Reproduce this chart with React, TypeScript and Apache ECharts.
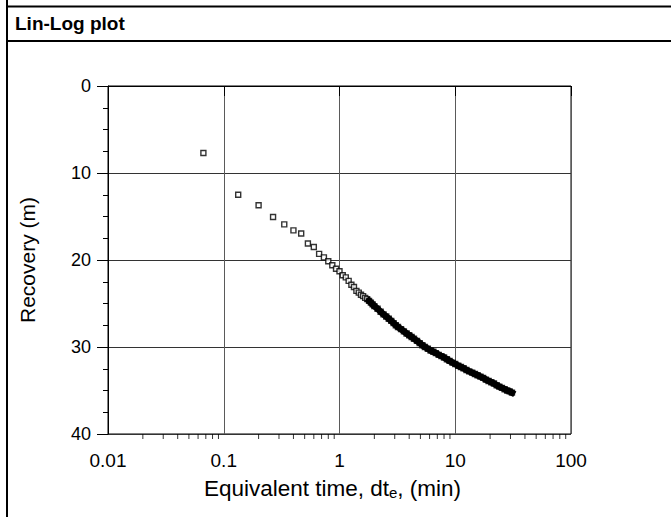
import React, { useEffect, useRef } from "react";
import * as echarts from "echarts";

// Sparse early points (equivalent time, min) and recovery (m)
const sparseX = [0.0667, 0.1333, 0.2, 0.2667, 0.3333, 0.4, 0.4667, 0.5333, 0.6, 0.6667, 0.7333, 0.8, 0.8667, 0.9333, 1.0, 1.0667, 1.1333, 1.2, 1.2667, 1.3333, 1.4, 1.4667, 1.5333, 1.6, 1.6667, 1.7333];
const sparseY = [7.7, 12.5, 13.7, 15.05, 15.9, 16.6, 16.95, 18.1, 18.5, 19.3, 19.7, 20.15, 20.6, 21.0, 21.3, 21.75, 22.0, 22.4, 22.85, 23.1, 23.55, 23.75, 24.0, 24.15, 24.35, 24.5];

// Dense late points
const denseX = [1.8, 1.867, 1.933, 2.0, 2.133, 2.267, 2.4, 2.533, 2.667, 2.8, 2.933, 3.067, 3.2, 3.4, 3.6, 3.8, 4.0, 4.2, 4.4, 4.67, 4.93, 5.2, 5.47, 5.8, 6.13, 6.47, 6.8, 7.2, 7.6, 8.0, 8.47, 8.93, 9.47, 10.0, 10.6, 11.2, 11.8, 12.5, 13.2, 14.0, 14.8, 15.6, 16.5, 17.4, 18.4, 19.4, 20.5, 21.6, 22.8, 24.0, 25.3, 26.7, 28.1, 29.5, 30.9];
const denseY = [24.7, 24.9, 25.1, 25.3, 25.6, 25.95, 26.25, 26.5, 26.75, 27.0, 27.25, 27.5, 27.7, 27.95, 28.2, 28.45, 28.65, 28.85, 29.05, 29.3, 29.55, 29.8, 30.0, 30.2, 30.4, 30.55, 30.7, 30.9, 31.05, 31.2, 31.4, 31.6, 31.8, 31.95, 32.15, 32.3, 32.45, 32.65, 32.8, 32.95, 33.1, 33.25, 33.4, 33.55, 33.75, 33.9, 34.05, 34.2, 34.4, 34.55, 34.7, 34.85, 35.0, 35.1, 35.25];

const xTickLabels = ["0.01", "0.1", "1", "10", "100"];
const yTickLabels = ["0", "10", "20", "30", "40"];
const xMinorTicks = [
  0.02, 0.03, 0.04, 0.05, 0.06, 0.07, 0.08, 0.09,
  0.2, 0.3, 0.4, 0.5, 0.6, 0.7, 0.8, 0.9,
  2, 3, 4, 5, 6, 7, 8, 9,
  20, 30, 40, 50, 60, 70, 80, 90,
];

const FONT = "'Liberation Sans', Arial, Helvetica, sans-serif";

export default function App() {
  const ref = useRef<HTMLDivElement>(null);
  useEffect(() => {
    if (!ref.current) return;
    const chart = echarts.init(ref.current, undefined, { renderer: "svg" });
    const allPts = sparseX.map((x, i) => [x, sparseY[i]]).concat(denseX.map((x, i) => [x, denseY[i]]));
    const densePts = denseX.map((x, i) => [x, denseY[i]]);
    chart.setOption({
      animation: false,
      backgroundColor: "#fff",
      textStyle: { fontFamily: FONT },
      grid: {
        left: 108,
        top: 86,
        width: 463,
        height: 348,
        show: true,
        borderColor: "#000",
        borderWidth: 1,
        backgroundColor: "transparent",
      },
      xAxis: {
        type: "log",
        logBase: 10,
        min: 0.01,
        max: 100,
        axisLine: { show: true, lineStyle: { color: "#000", width: 1 } },
        axisTick: { show: true, length: 10, lineStyle: { color: "#000" } },
        minorTick: { show: false },
        splitLine: { show: true, lineStyle: { color: "#5a5a5a", width: 1 } },
        axisLabel: {
          fontSize: 19,
          color: "#000",
          margin: 17,
          fontFamily: FONT,
          formatter: (v: number) => xTickLabels[Math.round(Math.log10(v)) + 2],
        },
        name: "{a|Equivalent time, dt}{s|e}{a|, (min)}",
        nameLocation: "middle",
        nameGap: 40,
        nameTextStyle: {
          padding: [0, 14, 0, 0],
          rich: {
            a: { fontSize: 22.5, fontFamily: FONT, color: "#000", lineHeight: 26, verticalAlign: "bottom" },
            s: { fontSize: 15, fontFamily: FONT, color: "#000", lineHeight: 15, verticalAlign: "bottom", padding: [4, 0, 0, 0] },
          },
        },
      },
      yAxis: {
        type: "value",
        inverse: true,
        min: 0,
        max: 40,
        interval: 10,
        axisLine: { show: true, lineStyle: { color: "#000", width: 1 } },
        axisTick: { show: true, length: 11, lineStyle: { color: "#000" } },
        minorTick: { show: true, splitNumber: 4, length: 5, lineStyle: { color: "#000" } },
        splitLine: { show: true, lineStyle: { color: "#333", width: 1 } },
        axisLabel: {
          fontSize: 18,
          color: "#000",
          margin: 17,
          fontFamily: FONT,
          formatter: (v: number) => yTickLabels[Math.round(v / 10)],
        },
        name: "Recovery (m)",
        nameLocation: "middle",
        nameGap: 70,
        nameTextStyle: { fontSize: 21, color: "#000", fontFamily: FONT },
      },
      graphic: [
        { type: "line", shape: { x1: 7, y1: 0, x2: 7, y2: 517 }, style: { stroke: "#000", lineWidth: 2 } },
        { type: "line", shape: { x1: 7, y1: 6.5, x2: 671, y2: 6.5 }, style: { stroke: "#000", lineWidth: 2 } },
        { type: "line", shape: { x1: 7, y1: 41, x2: 671, y2: 41 }, style: { stroke: "#000", lineWidth: 2 } },
        {
          type: "text",
          left: 15,
          top: 14,
          style: { text: "Lin-Log plot", fontSize: 19, fontWeight: "bold", fontFamily: FONT, fill: "#000" },
        },
      ],
      series: [
        {
          type: "scatter",
          data: xMinorTicks.map((v) => [v, 40]),
          symbol: "rect",
          symbolSize: [1, 5],
          symbolOffset: [0, 2.5],
          itemStyle: { color: "#000" },
          silent: true,
          clip: false,
          z: 1,
        },
        {
          type: "scatter",
          data: allPts,
          symbol: "rect",
          symbolSize: 5,
          itemStyle: { color: "#fff", borderColor: "#000", borderWidth: 1.4 },
          silent: true,
          z: 3,
        },
        {
          type: "line",
          data: densePts,
          showSymbol: false,
          symbol: "none",
          lineStyle: { color: "#000", width: 6.5, cap: "square", join: "round" },
          silent: true,
          z: 4,
        },
      ],
    });
    return () => chart.dispose();
  }, []);
  return <div ref={ref} style={{ position: "absolute", left: 0, top: 0, width: 671, height: 517 }} />;
}
